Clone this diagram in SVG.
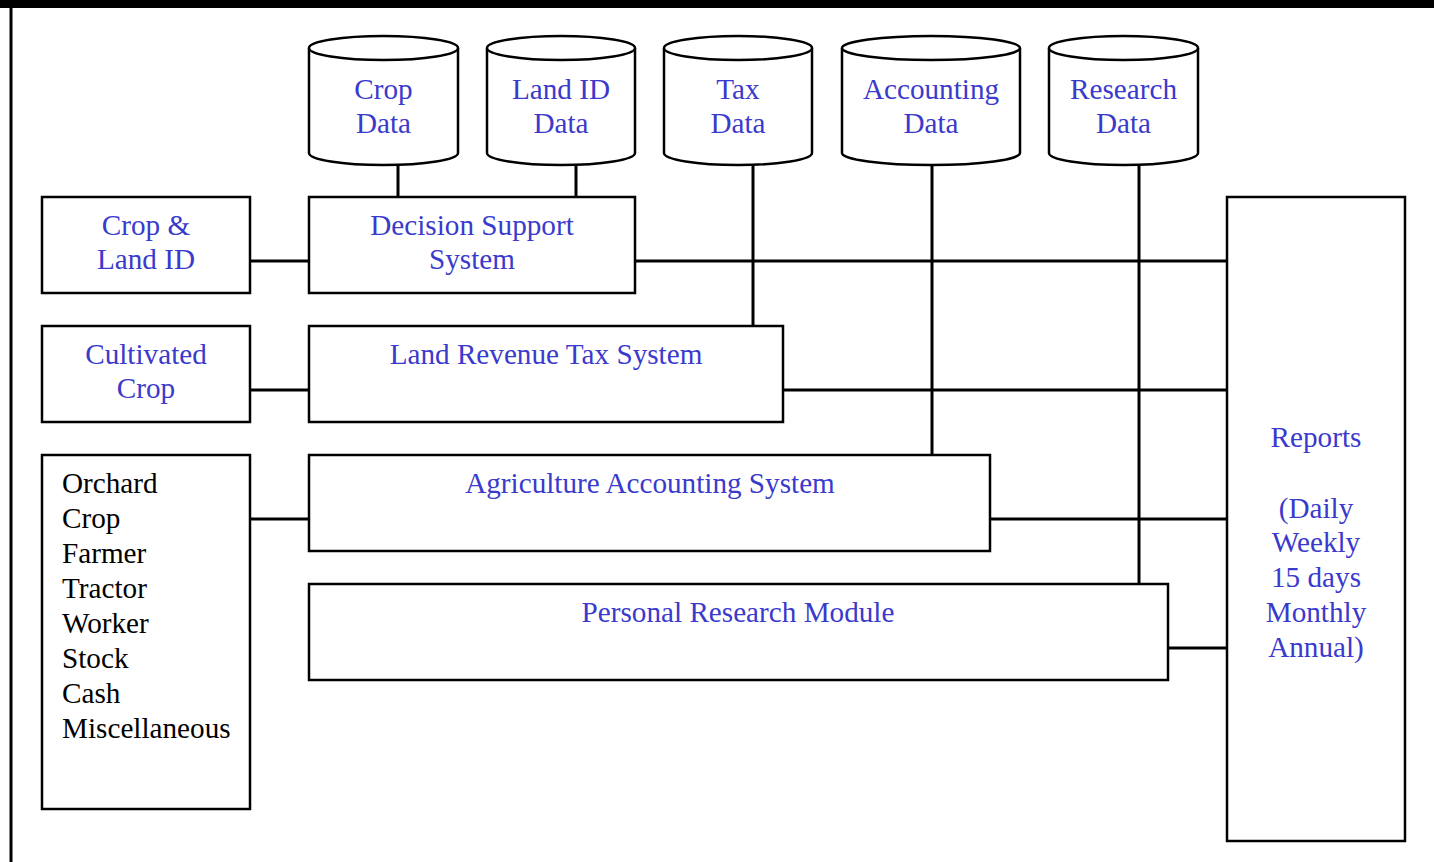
<svg xmlns="http://www.w3.org/2000/svg" width="1434" height="862" viewBox="0 0 1434 862">
<style>
.box{fill:#fff;stroke:#000;stroke-width:2.5}
.cyl{fill:#fff;stroke:#000;stroke-width:2.5}
.ln{stroke:#000;stroke-width:3;fill:none}
.t{font-family:'Liberation Serif','Times New Roman',Tinos,'DejaVu Serif',serif;font-size:29.2px;fill:#3a3acc;text-anchor:middle}
.k{font-family:'Liberation Serif','Times New Roman',Tinos,'DejaVu Serif',serif;font-size:29.2px;fill:#000}
</style>
<rect x="0" y="0" width="1434" height="862" fill="#fff"/>
<rect x="0" y="0" width="1434" height="8" fill="#000"/>
<line x1="11" y1="8" x2="11" y2="862" stroke="#000" stroke-width="3"/>
<g id="connectors">
<line class="ln" x1="398" y1="164" x2="398" y2="197"/>
<line class="ln" x1="576" y1="164" x2="576" y2="197"/>
<line class="ln" x1="753" y1="164" x2="753" y2="326"/>
<line class="ln" x1="932" y1="164" x2="932" y2="455"/>
<line class="ln" x1="1139" y1="164" x2="1139" y2="583"/>
<line class="ln" x1="250" y1="261" x2="309" y2="261"/>
<line class="ln" x1="635" y1="261" x2="1227" y2="261"/>
<line class="ln" x1="250" y1="390" x2="309" y2="390"/>
<line class="ln" x1="783" y1="390" x2="1227" y2="390"/>
<line class="ln" x1="250" y1="519" x2="309" y2="519"/>
<line class="ln" x1="990" y1="519" x2="1227" y2="519"/>
<line class="ln" x1="1168" y1="648" x2="1227" y2="648"/>
</g>
<g id="crop-data">
<path class="cyl" d="M309,48 L309,153 A74.5,12 0 0 0 458,153 L458,48"/>
<ellipse class="cyl" cx="383.5" cy="48" rx="74.5" ry="12"/>
<text class="t" x="383.5" y="99">Crop</text>
<text class="t" x="383.5" y="133">Data</text>
</g>
<g id="land-id-data">
<path class="cyl" d="M487,48 L487,153 A74,12 0 0 0 635,153 L635,48"/>
<ellipse class="cyl" cx="561" cy="48" rx="74" ry="12"/>
<text class="t" x="561" y="99">Land ID</text>
<text class="t" x="561" y="133">Data</text>
</g>
<g id="tax-data">
<path class="cyl" d="M664,48 L664,153 A74,12 0 0 0 812,153 L812,48"/>
<ellipse class="cyl" cx="738" cy="48" rx="74" ry="12"/>
<text class="t" x="738" y="99">Tax</text>
<text class="t" x="738" y="133">Data</text>
</g>
<g id="accounting-data">
<path class="cyl" d="M842,48 L842,153 A89,12 0 0 0 1020,153 L1020,48"/>
<ellipse class="cyl" cx="931" cy="48" rx="89" ry="12"/>
<text class="t" x="931" y="99">Accounting</text>
<text class="t" x="931" y="133">Data</text>
</g>
<g id="research-data">
<path class="cyl" d="M1049,48 L1049,153 A74.5,12 0 0 0 1198,153 L1198,48"/>
<ellipse class="cyl" cx="1123.5" cy="48" rx="74.5" ry="12"/>
<text class="t" x="1123.5" y="99">Research</text>
<text class="t" x="1123.5" y="133">Data</text>
</g>
<g id="crop-land-id">
<rect class="box" x="42" y="197" width="208" height="96"/>
<text class="t" x="146" y="235">Crop &amp;</text>
<text class="t" x="146" y="269">Land ID</text>
</g>
<g id="decision-support">
<rect class="box" x="309" y="197" width="326" height="96"/>
<text class="t" x="472" y="235">Decision Support</text>
<text class="t" x="472" y="269">System</text>
</g>
<g id="cultivated-crop">
<rect class="box" x="42" y="326" width="208" height="96"/>
<text class="t" x="146" y="364">Cultivated</text>
<text class="t" x="146" y="398">Crop</text>
</g>
<g id="land-revenue">
<rect class="box" x="309" y="326" width="474" height="96"/>
<text class="t" x="546" y="364">Land Revenue Tax System</text>
</g>
<g id="entities">
<rect class="box" x="42" y="455" width="208" height="354"/>
<text class="k" x="62" y="493">Orchard</text>
<text class="k" x="62" y="528">Crop</text>
<text class="k" x="62" y="563">Farmer</text>
<text class="k" x="62" y="598">Tractor</text>
<text class="k" x="62" y="633">Worker</text>
<text class="k" x="62" y="668">Stock</text>
<text class="k" x="62" y="703">Cash</text>
<text class="k" x="62" y="738">Miscellaneous</text>
</g>
<g id="agri-accounting">
<rect class="box" x="309" y="455" width="681" height="96"/>
<text class="t" x="650" y="493">Agriculture Accounting System</text>
</g>
<g id="personal-research">
<rect class="box" x="309" y="584" width="859" height="96"/>
<text class="t" x="738" y="622">Personal Research Module</text>
</g>
<g id="reports">
<rect class="box" x="1227" y="197" width="178" height="644"/>
<text class="t" x="1316" y="447">Reports</text>
<text class="t" x="1316" y="518">(Daily</text>
<text class="t" x="1316" y="552">Weekly</text>
<text class="t" x="1316" y="587">15 days</text>
<text class="t" x="1316" y="622">Monthly</text>
<text class="t" x="1316" y="657">Annual)</text>
</g>
</svg>
